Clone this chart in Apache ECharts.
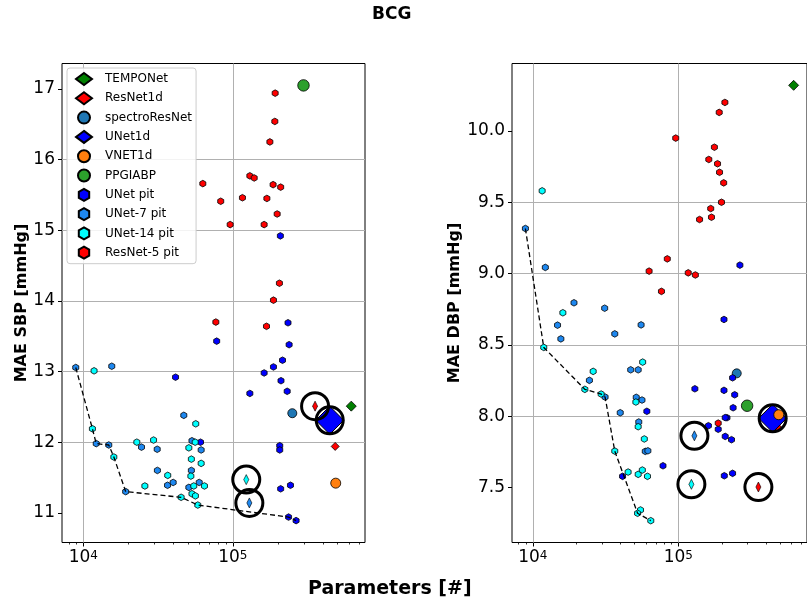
<!DOCTYPE html>
<html><head><meta charset="utf-8">
<script src="https://cdn.jsdelivr.net/npm/echarts@6/dist/echarts.min.js"></script>
<style>html,body{margin:0;padding:0;background:#fff}#c{width:807px;height:606px}</style>
</head><body><div id="c"></div>
<script>
// ---------- DATA ----------
const xTicks = [1e4, 1e5];
const xMinorTicks = [8000, 9000, 20000, 30000, 40000, 50000, 60000, 70000, 80000, 90000, 200000, 300000, 400000, 500000, 600000, 700000];
const sbpTicks = [11, 12, 13, 14, 15, 16, 17];
const dbpTicks = [7.5, 8.0, 8.5, 9.0, 9.5, 10.0];

// baseline models [params, MAE]
const sbpTEMPONet = [[6.2e5, 12.51]];
const sbpResNet1d = [[4.84e5, 11.94]];
const sbpSpectroResNet = [[2.5e5, 12.41]];
const sbpUNet1d = [[4.45e5, 12.31]];
const sbpVNET1d = [[4.88e5, 11.42]];
const sbpPPGIABP = [[2.97e5, 17.05]];

const dbpTEMPONet = [[6.2e5, 10.32]];
const dbpResNet1d = [[4.84e5, 7.92]];
const dbpSpectroResNet = [[2.52e5, 8.30]];
const dbpUNet1d = [[4.45e5, 7.985]];
const dbpVNET1d = [[4.9e5, 8.01]];
const dbpPPGIABP = [[2.97e5, 8.073]];

// pruned models (SBP)
const sbpUNetPit = [[4.14e4,12.92],[7.8e4,13.43],[2.38e5,13.38],[2.15e5,13.16],[1.87e5,13.065],[1.62e5,12.98],[2.1e5,12.87],[2.31e5,12.72],[1.3e5,12.69],[2.06e5,11.95],[2.06e5,11.89],[2.09e5,11.34],[2.43e5,11.39],[2.36e5,10.94],[2.65e5,10.89],[6.08e4,12.0],[2.08e5,14.92],[2.34e5,13.69]];
const sbpUNet7Pit = [[8.9e3,13.057],[1.55e4,13.075],[1.22e4,11.98],[1.48e4,11.96],[1.92e4,11.30],[2.45e4,11.93],[3.12e4,11.9],[3.13e4,11.6],[3.66e4,11.39],[3.99e4,11.43],[4.7e4,12.38],[5.33e4,12.02],[6.14e4,11.89],[5.28e4,11.60],[5.96e4,11.43],[5.08e4,11.36]];
const sbpUNet14Pit = [[1.18e4,13.01],[1.15e4,12.19],[1.6e4,11.79],[2.28e4,12.0],[2.58e4,11.38],[2.95e4,12.03],[3.67e4,11.53],[4.51e4,11.22],[5.65e4,12.26],[5.6e4,12.0],[5.08e4,11.92],[5.28e4,11.76],[6.14e4,11.70],[5.24e4,11.52],[5.48e4,11.38],[6.46e4,11.38],[5.33e4,11.27],[5.62e4,11.24],[5.83e4,11.11]];
const sbpResNet5Pit = [[1.92e5,16.94],[1.91e5,16.54],[1.77e5,16.25],[1.30e5,15.77],[1.39e5,15.74],[6.3e4,15.66],[1.86e5,15.645],[2.09e5,15.61],[8.3e4,15.41],[1.16e5,15.46],[1.69e5,15.45],[1.98e5,15.23],[9.6e4,15.08],[1.62e5,15.08],[2.05e5,14.25],[1.87e5,14.01],[7.7e4,13.70],[1.68e5,13.64]];
const sbpFront = [[8.9e3,13.057],[1.15e4,12.19],[1.22e4,11.98],[1.48e4,11.96],[1.6e4,11.79],[1.92e4,11.30],[4.51e4,11.22],[5.83e4,11.11],[2.36e5,10.94],[2.65e5,10.89]];
const sbpSelRes = [[3.55e5, 12.51]];
const sbpSelU14 = [[1.23e5, 11.47]];
const sbpSelU7 = [[1.29e5, 11.14]];
const sbpCircles = [[3.55e5, 12.51],[1.23e5, 11.47],[1.29e5, 11.14],[4.45e5, 12.31]];

// pruned models (DBP)
const dbpUNetPit = [[2.65e5,9.059],[2.06e5,8.678],[6.08e4,8.034],[7.85e4,7.652],[4.14e4,7.578],[1.3e5,8.192],[2.06e5,8.181],[2.36e5,8.269],[2.44e5,8.15],[2.38e5,8.059],[2.16e5,7.989],[2.1e5,7.99],[1.61e5,7.933],[1.88e5,7.908],[2.1e5,7.858],[2.32e5,7.835],[2.07e5,7.582],[2.36e5,7.599]];
const dbpUNet7Pit = [[8.9e3,9.316],[1.22e4,9.043],[1.92e4,8.795],[3.12e4,8.757],[1.48e4,8.638],[3.66e4,8.577],[1.56e4,8.542],[5.55e4,8.64],[4.71e4,8.325],[5.3e4,8.325],[2.45e4,8.251],[3.14e4,8.134],[5.14e4,8.132],[5.63e4,8.113],[3.99e4,8.024],[5.35e4,7.959],[5.93e4,7.753],[6.18e4,7.757]];
const dbpUNet14Pit = [[1.16e4,9.58],[1.61e4,8.725],[1.19e4,8.482],[2.6e4,8.314],[5.69e4,8.379],[2.28e4,8.188],[2.95e4,8.155],[5.11e4,8.099],[5.3e4,7.926],[5.84e4,7.84],[3.66e4,7.755],[4.52e4,7.608],[5.3e4,7.592],[5.66e4,7.622],[6.14e4,7.578],[5.5e4,7.342],[5.25e4,7.319],[6.47e4,7.267]];
const dbpResNet5Pit = [[2.09e5,10.20],[1.91e5,10.13],[9.6e4,9.95],[1.77e5,9.886],[1.62e5,9.80],[1.86e5,9.77],[1.92e5,9.71],[2.05e5,9.636],[1.98e5,9.50],[1.67e5,9.456],[1.69e5,9.395],[1.40e5,9.379],[8.4e4,9.103],[6.3e4,9.017],[1.17e5,9.005],[1.31e5,8.99],[7.66e4,8.875],[1.88e5,7.951]];
const dbpFront = [[8.9e3,9.316],[1.19e4,8.482],[2.28e4,8.188],[2.95e4,8.155],[3.14e4,8.134],[3.66e4,7.755],[5.25e4,7.319],[6.47e4,7.267]];
const dbpSelRes = [[3.55e5, 7.503]];
const dbpSelU14 = [[1.23e5, 7.522]];
const dbpSelU7 = [[1.29e5, 7.862]];
const dbpCircles = [[3.55e5, 7.503],[1.23e5, 7.522],[1.29e5, 7.862],[4.45e5, 7.985]];

// ---------- STYLE ----------
const FONT = 'DejaVu Sans';
const HEX = 'path://M0,-1L0.866,-0.5L0.866,0.5L0,1L-0.866,0.5L-0.866,-0.5Z';
const THIN = 'path://M0,-1L0.6,0L0,1L-0.6,0Z';
const C = {
  TEMPONet: '#008000', ResNet1d: '#ff0000', spectroResNet: '#1f77b4', UNet1d: '#0000ff',
  VNET1d: '#ff7f0e', PPGIABP: '#2ca02c', UNetPit: '#0000ff', UNet7: '#1e88f0', UNet14: '#00ffff', Res5: '#ff0000'
};
const X_MIN = 7200, X_MAX = 7.66e5;

function sc(name, data, g, symbol, size, color, bw) {
  return { type: 'scatter', name, data, xAxisIndex: g * 2, yAxisIndex: g, symbol, symbolSize: size,
    itemStyle: { color, borderColor: '#000', borderWidth: bw == null ? 0.8 : bw, opacity: 1 },
    emphasis: { disabled: true } };
}
function ring(data, g) {
  return { type: 'scatter', data, xAxisIndex: g * 2, yAxisIndex: g, symbol: 'circle', symbolSize: 27,
    itemStyle: { color: 'rgba(0,0,0,0)', borderColor: '#000', borderWidth: 3, opacity: 1 }, emphasis: { disabled: true }, z: 5 };
}
function front(data, g) {
  return { type: 'line', data, xAxisIndex: g * 2, yAxisIndex: g, symbol: 'none', silent: true,
    lineStyle: { color: '#000', width: 1.3, type: [5, 3] } };
}
function vgrid(g) {
  return { type: 'line', data: [], xAxisIndex: g * 2, yAxisIndex: g, symbol: 'none', silent: true, z: 1,
    markLine: { silent: true, z: 1, symbol: ['none', 'none'], label: { show: false }, animation: false,
      lineStyle: { color: '#b0b0b0', width: 1, type: 'solid' }, emphasis: { disabled: true },
      data: xTicks.map(v => ({ xAxis: v })) } };
}
function groupSeries(g, d) {
  return [
    vgrid(g),
    sc('TEMPONet', d.tempo, g, 'diamond', 10, C.TEMPONet),
    sc('ResNet1d', d.res, g, 'diamond', 8, C.ResNet1d),
    sc('spectroResNet', d.spec, g, 'circle', 9, C.spectroResNet),
    sc('UNet1d', d.unet, g, 'diamond', 28, C.UNet1d, 1),
    sc('VNET1d', d.vnet, g, 'circle', 10, C.VNET1d),
    sc('PPGIABP', d.ppg, g, 'circle', 11.5, C.PPGIABP),
    front(d.front, g),
    sc('UNet pit', d.up, g, HEX, [6, 6.6], C.UNetPit),
    sc('UNet-7 pit', d.u7, g, HEX, [6, 6.6], C.UNet7),
    sc('UNet-14 pit', d.u14, g, HEX, [6, 6.6], C.UNet14),
    sc('ResNet-5 pit', d.r5, g, HEX, [6, 6.6], C.Res5),
    sc('selRes', d.selRes, g, THIN, [5, 10], C.Res5, 0.6),
    sc('selU14', d.selU14, g, THIN, [5, 10], C.UNet14, 0.6),
    sc('selU7', d.selU7, g, THIN, [5, 10], C.UNet7, 0.6),
    ring(d.circles, g)
  ];
}

function xAxes(g) {
  return [{
    type: 'log', logBase: 10, gridIndex: g, position: 'bottom', min: X_MIN, max: X_MAX,
    axisLine: { show: false },
    axisTick: { show: true, length: 4, customValues: xTicks, lineStyle: { color: '#000', width: 1 } },
    axisLabel: { customValues: xTicks, margin: 7, color: '#000',
      formatter: v => '{b|10}{s|' + Math.round(Math.log10(v)) + '}',
      rich: { b: { fontSize: 17, fontFamily: FONT, color: '#000', verticalAlign: 'bottom' },
              s: { fontSize: 12, fontFamily: FONT, color: '#000', verticalAlign: 'top' } } },
    splitLine: { show: false }
  }, {
    type: 'log', logBase: 10, gridIndex: g, position: 'bottom', min: X_MIN, max: X_MAX,
    axisLine: { show: false }, axisLabel: { show: false }, splitLine: { show: false },
    axisTick: { show: true, length: 2, customValues: xMinorTicks, lineStyle: { color: '#000', width: 0.8 } }
  }];
}
function yAxis(g, min, max, ticks, name, gap, dec) {
  return {
    type: 'value', gridIndex: g, min, max, name, nameLocation: 'middle', nameGap: gap,
    nameTextStyle: { fontFamily: FONT, fontWeight: 'bold', fontSize: 16, color: '#000' },
    axisLine: { show: false },
    axisTick: { show: true, length: 4, customValues: ticks, lineStyle: { color: '#000', width: 1 } },
    axisLabel: { customValues: ticks, margin: 7, fontFamily: FONT, fontSize: 17, color: '#000',
      formatter: v => v.toFixed(dec) },
    splitLine: { show: true, showMinLine: false, showMaxLine: false, lineStyle: { color: '#b0b0b0', width: 1 } }
  };
}

const chart = echarts.init(document.getElementById('c'), null, { renderer: 'canvas' });
chart.setOption({
  animation: false,
  textStyle: { fontFamily: FONT },
  title: [
    { text: 'BCG', left: 372, top: 6, padding: 0, textStyle: { fontFamily: FONT, fontSize: 17, fontWeight: 'bold', color: '#000' } },
    { text: 'Parameters [#]', left: 308, top: 580, padding: 0, textStyle: { fontFamily: FONT, fontSize: 19, fontWeight: 'bold', color: '#000' } }
  ],
  grid: [
    { left: 62, top: 63.5, width: 303, height: 479, show: true, borderColor: '#000', borderWidth: 1, backgroundColor: 'transparent' },
    { left: 512, top: 63.5, width: 303, height: 479, show: true, borderColor: '#000', borderWidth: 1, backgroundColor: 'transparent' }
  ],
  legend: {
    left: 67, top: 68, orient: 'vertical', padding: [4, 4, 4, 8], itemWidth: 16, itemHeight: 12, itemGap: 5.3,
    backgroundColor: 'rgba(255,255,255,0.85)', borderColor: '#cccccc', borderWidth: 1, borderRadius: 3,
    textStyle: { fontFamily: FONT, fontSize: 12, color: '#000', padding: [0, 0, 0, 8] },
    selectedMode: false,
    data: [
      { name: 'TEMPONet', icon: 'diamond' }, { name: 'ResNet1d', icon: 'diamond' },
      { name: 'spectroResNet', icon: 'circle' }, { name: 'UNet1d', icon: 'diamond' },
      { name: 'VNET1d', icon: 'circle' }, { name: 'PPGIABP', icon: 'circle' },
      { name: 'UNet pit', icon: HEX }, { name: 'UNet-7 pit', icon: HEX },
      { name: 'UNet-14 pit', icon: HEX }, { name: 'ResNet-5 pit', icon: HEX }
    ]
  },
  xAxis: [...xAxes(0), ...xAxes(1)],
  yAxis: [
    yAxis(0, 10.58, 17.36, sbpTicks, 'MAE SBP [mmHg]', 31, 0),
    yAxis(1, 7.114, 10.473, dbpTicks, 'MAE DBP [mmHg]', 37, 1)
  ],
  series: [
    ...groupSeries(0, { tempo: sbpTEMPONet, res: sbpResNet1d, spec: sbpSpectroResNet, unet: sbpUNet1d, vnet: sbpVNET1d, ppg: sbpPPGIABP,
      front: sbpFront, up: sbpUNetPit, u7: sbpUNet7Pit, u14: sbpUNet14Pit, r5: sbpResNet5Pit,
      selRes: sbpSelRes, selU14: sbpSelU14, selU7: sbpSelU7, circles: sbpCircles }),
    ...groupSeries(1, { tempo: dbpTEMPONet, res: dbpResNet1d, spec: dbpSpectroResNet, unet: dbpUNet1d, vnet: dbpVNET1d, ppg: dbpPPGIABP,
      front: dbpFront, up: dbpUNetPit, u7: dbpUNet7Pit, u14: dbpUNet14Pit, r5: dbpResNet5Pit,
      selRes: dbpSelRes, selU14: dbpSelU14, selU7: dbpSelU7, circles: dbpCircles })
  ]
});
</script>
</body></html>
